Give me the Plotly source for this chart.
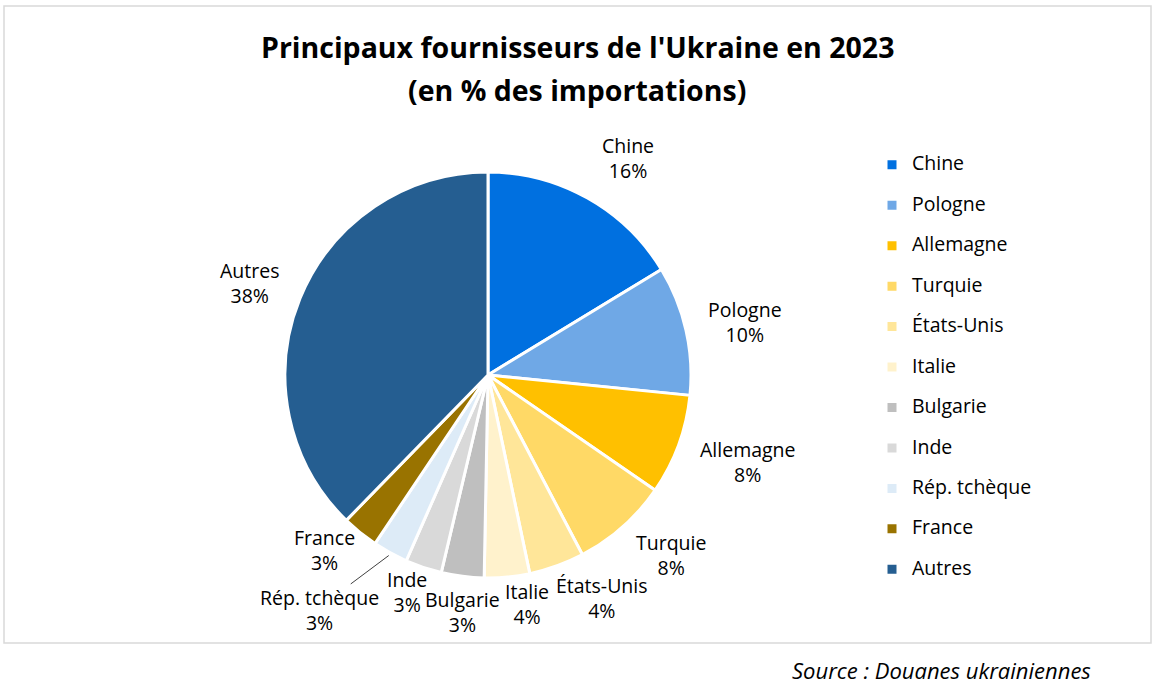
import math
import plotly.graph_objects as go

categories = ["Chine", "Pologne", "Allemagne", "Turquie", "États-Unis", "Italie",
              "Bulgarie", "Inde", "Rép. tchèque", "France", "Autres"]
shares = [16.3, 10.3, 8.0, 7.7, 4.4, 3.6, 3.4, 2.9, 2.8, 2.9, 37.7]
colors = ["#0070E0", "#6FA8E6", "#FFC000", "#FFD966", "#FFE699", "#FFF2CC",
          "#BFBFBF", "#D9D9D9", "#DDEBF7", "#997300", "#255E91"]
title_line1 = "Principaux fournisseurs de l'Ukraine en 2023"
title_line2 = "(en % des importations)"
source_text = "Source : Douanes ukrainiennes"

# label placement tweaks (layout only): angular nudge (deg) and distance from centre (px)
label_nudge_deg = [3.5, 1.1, -1.7, -3.9, -7.3, -4.3, -1.0, 2.0, 6.8, 4.0, -1.0]
label_dist_px = [258, 262, 274, 257, 250, 232, 238, 232, 289, 240, 256]
leader_for = "Rép. tchèque"

W, H = 1159, 696
FONT = "'Open Sans', Lato, sans-serif"

legend_base = 14.4
legend_labels = [f"<span style='font-size:19.5px'>{c}</span><br>\u00a0" for c in categories]

cx, cy, r = 488, 375, 203
fig = go.Figure(go.Pie(
    labels=legend_labels,
    values=shares,
    sort=False,
    direction="clockwise",
    rotation=0,
    marker=dict(colors=colors, line=dict(color="white", width=3)),
    textinfo="none",
    domain=dict(x=[(cx - r) / W, (cx + r) / W], y=[1 - (cy + r) / H, 1 - (cy - r) / H]),
    hoverinfo="skip",
))

annotations = [
    dict(text=f"<b>{title_line1}</b>", xref="paper", yref="paper", x=577 / W, y=1 - 47 / H,
         xanchor="center", yanchor="middle", showarrow=False, font=dict(size=28.5, family=FONT)),
    dict(text=f"<b>{title_line2}</b>", xref="paper", yref="paper", x=577 / W, y=1 - 90 / H,
         xanchor="center", yanchor="middle", showarrow=False, font=dict(size=28.5, family=FONT)),
    dict(text=f"<i>{source_text}</i>", xref="paper", yref="paper", x=1093 / W, y=1 - 670 / H,
         xanchor="right", yanchor="middle", showarrow=False, font=dict(size=22, family=FONT)),
]
shapes = [dict(type="rect", xref="paper", yref="paper",
               x0=4 / W, x1=1151 / W, y0=1 - 643 / H, y1=1 - 6 / H,
               line=dict(color="#D9D9D9", width=1.5), fillcolor="rgba(0,0,0,0)", layer="below")]

total = sum(shares)
cum = 0.0
for i, (c, v) in enumerate(zip(categories, shares)):
    mid = (cum + v / 2) / total * 360
    cum += v
    ang = math.radians(mid + label_nudge_deg[i])
    d = label_dist_px[i]
    px = cx + d * math.sin(ang)
    py = cy - d * math.cos(ang)
    annotations.append(dict(
        text=f"{c}<br>{v / total * 100:.0f}%", xref="paper", yref="paper",
        x=px / W, y=1 - py / H, xanchor="center", yanchor="middle", showarrow=False,
        font=dict(size=19.5, family=FONT, color="#000000"),
    ))
    if c == leader_for:
        a0 = math.radians(mid)
        a1 = math.radians(mid + 4.5)
        x0, y0 = cx + (r + 3) * math.sin(a0), cy - (r + 3) * math.cos(a0)
        x1, y1 = cx + 250 * math.sin(a1), cy - 250 * math.cos(a1)
        shapes.append(dict(type="line", xref="paper", yref="paper",
                           x0=x0 / W, y0=1 - y0 / H, x1=x1 / W, y1=1 - y1 / H,
                           line=dict(color="#404040", width=1)))

fig.update_layout(
    width=W, height=H,
    margin=dict(l=0, r=0, t=0, b=0, autoexpand=False),
    paper_bgcolor="white",
    font=dict(family=FONT, color="#000000"),
    showlegend=True,
    legend=dict(
        x=872 / W, y=1 - 149 / H, xanchor="left", yanchor="top",
        font=dict(size=legend_base, family=FONT, color="#000000"),
        valign="top",
        bgcolor="rgba(0,0,0,0)",
    ),
    shapes=shapes,
    annotations=annotations,
)

fig.write_html("out.html")
